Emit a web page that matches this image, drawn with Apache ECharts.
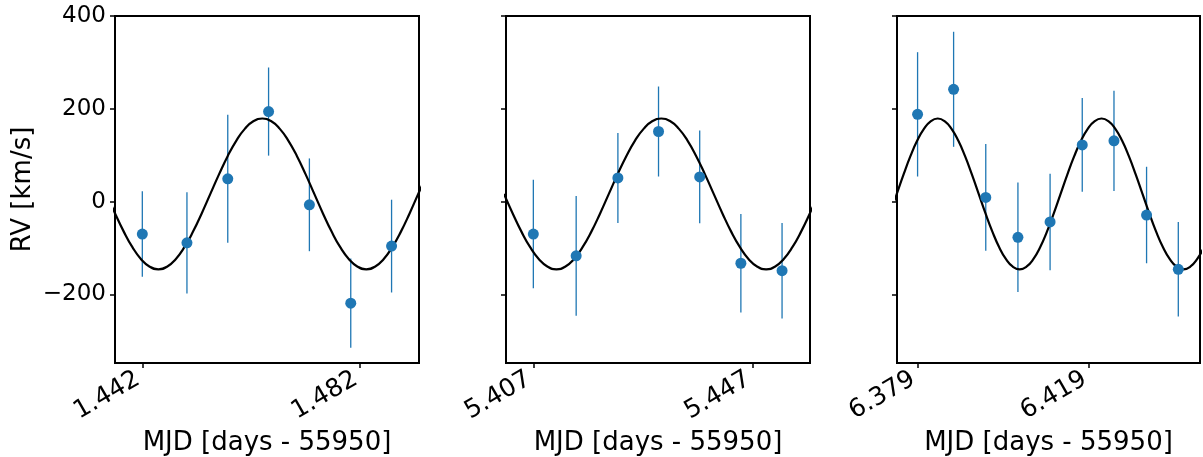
<!DOCTYPE html>
<html><head><meta charset="utf-8">
<script src="https://cdn.jsdelivr.net/npm/echarts@6/dist/echarts.min.js"></script>
<style>html,body{margin:0;padding:0;background:#fff}#c{width:1203px;height:457px}</style>
</head><body><div id="c"></div>
<script>
// ---- data ----
const t1 = [1.4420, 1.4502, 1.4577, 1.4652, 1.4727, 1.4803, 1.4878];
const rv1 = [-70, -89, 49, 194, -7, -219, -96];
const err1 = [92, 109, 138, 95, 100, 96, 100];

const t2 = [5.4070, 5.4148, 5.4224, 5.4298, 5.4373, 5.4448, 5.4523];
const rv2 = [-70, -117, 51, 151, 53, -133, -149];
const err2 = [117, 129, 97, 97, 100, 106, 103];

const t3 = [6.3790, 6.3874, 6.3949, 6.4024, 6.4099, 6.4174, 6.4248, 6.4324, 6.4398];
const rv3 = [188, 242, 9, -77, -44, 122, 131, -29, -146];
const err3 = [134, 124, 115, 118, 104, 101, 108, 104, 102];

// model curve
const modelT1 = [1.43540, 1.43699, 1.43859, 1.44018, 1.44177, 1.44336, 1.44495, 1.44654, 1.44813, 1.44973, 1.45132, 1.45291, 1.45450, 1.45609, 1.45768, 1.45928, 1.46087, 1.46246, 1.46405, 1.46564, 1.46723, 1.46882, 1.47042, 1.47201, 1.47360, 1.47519, 1.47678, 1.47837, 1.47997, 1.48156, 1.48315, 1.48474, 1.48633, 1.48792, 1.48952, 1.49111, 1.49270, 1.49429];
const modelRV1 = [16.5, -25.6, -64.8, -98.4, -124.2, -140.5, -146, -140.5, -124.2, -98.4, -64.8, -25.6, 16.5, 58.6, 97.8, 131.4, 157.2, 173.5, 179, 173.5, 157.2, 131.4, 97.8, 58.6, 16.5, -25.6, -64.8, -98.4, -124.2, -140.5, -146, -140.5, -124.2, -98.4, -64.8, -25.6, 16.5, 58.6];

const modelT2 = [5.40165, 5.40324, 5.40483, 5.40642, 5.40802, 5.40961, 5.41120, 5.41279, 5.41438, 5.41597, 5.41757, 5.41916, 5.42075, 5.42234, 5.42393, 5.42552, 5.42712, 5.42871, 5.43030, 5.43189, 5.43348, 5.43508, 5.43667, 5.43826, 5.43985, 5.44144, 5.44303, 5.44463, 5.44622, 5.44781, 5.44940, 5.45099, 5.45258, 5.45418, 5.45577, 5.45736, 5.45895];
const modelRV2 = [16.5, -25.6, -64.8, -98.4, -124.2, -140.5, -146, -140.5, -124.2, -98.4, -64.8, -25.6, 16.5, 58.6, 97.8, 131.4, 157.2, 173.5, 179, 173.5, 157.2, 131.4, 97.8, 58.6, 16.5, -25.6, -64.8, -98.4, -124.2, -140.5, -146, -140.5, -124.2, -98.4, -64.8, -25.6, 16.5];

const modelT3 = [6.37256, 6.37415, 6.37574, 6.37733, 6.37892, 6.38052, 6.38211, 6.38370, 6.38529, 6.38688, 6.38848, 6.39007, 6.39166, 6.39325, 6.39484, 6.39644, 6.39803, 6.39962, 6.40121, 6.40280, 6.40439, 6.40599, 6.40758, 6.40917, 6.41076, 6.41235, 6.41394, 6.41553, 6.41713, 6.41872, 6.42031, 6.42190, 6.42349, 6.42508, 6.42668, 6.42827, 6.42986, 6.43145, 6.43304, 6.43463, 6.43623, 6.43782, 6.43941, 6.44100, 6.44259, 6.44418, 6.44578];
const modelRV3 = [-25.6, 16.5, 58.6, 97.8, 131.4, 157.2, 173.5, 179, 173.5, 157.2, 131.4, 97.8, 58.6, 16.5, -25.6, -64.8, -98.4, -124.2, -140.5, -146, -140.5, -124.2, -98.4, -64.8, -25.6, 16.5, 58.6, 97.8, 131.4, 157.2, 173.5, 179, 173.5, 157.2, 131.4, 97.8, 58.6, 16.5, -25.6, -64.8, -98.4, -124.2, -140.5, -146, -140.5, -124.2, -98.4];

const xTicks1 = [1.442, 1.482];
const xTicks2 = [5.407, 5.447];
const xTicks3 = [6.379, 6.419];
const yTicks = [-200, 0, 200, 400];

const xRange1 = [1.43698, 1.49284];
const xRange2 = [5.40202, 5.45739];
const xRange3 = [6.37420, 6.44486];
const yRange = [-348, 400];

const xTitle = 'MJD [days - 55950]';
const yTitle = 'RV [km/s]';

// ---- chart ----
const FONT = 'DejaVu Sans';
const BLUE = '#1f77b4';
const panels = [
  {t: t1, rv: rv1, err: err1, mt: modelT1, mrv: modelRV1, ticks: xTicks1, range: xRange1},
  {t: t2, rv: rv2, err: err2, mt: modelT2, mrv: modelRV2, ticks: xTicks2, range: xRange2},
  {t: t3, rv: rv3, err: err3, mt: modelT3, mrv: modelRV3, ticks: xTicks3, range: xRange3}
];
const gridPos = [{left: 115, width: 304}, {left: 506, width: 304}, {left: 897, width: 303}];

const grid = [], xAxis = [], yAxis = [], series = [];
panels.forEach((p, i) => {
  grid.push({left: gridPos[i].left, width: gridPos[i].width, top: 16, height: 347,
    outerBoundsMode: 'none', containLabel: false,
    show: true, borderColor: '#000', borderWidth: 2, backgroundColor: 'transparent'});
  xAxis.push({
    type: 'value', gridIndex: i, min: p.range[0], max: p.range[1],
    axisLine: {show: false, onZero: false},
    splitLine: {show: false},
    axisTick: {show: true, length: 5, customValues: p.ticks, lineStyle: {color: '#000', width: 1.5}},
    axisLabel: {show: true, customValues: p.ticks, rotate: 30, margin: 12, padding: [0, 5, 0, 0],
      formatter: v => Number(v).toFixed(3), fontSize: 25, color: '#000', fontFamily: FONT},
    name: xTitle, nameLocation: 'middle', nameGap: 56,
    nameTextStyle: {fontSize: 26, color: '#000', fontFamily: FONT}
  });
  yAxis.push({
    type: 'value', gridIndex: i, min: yRange[0], max: yRange[1],
    axisLine: {show: false, onZero: false},
    splitLine: {show: false},
    axisTick: {show: true, length: 5, customValues: yTicks, lineStyle: {color: '#000', width: 1.5}},
    axisLabel: {show: i === 0, customValues: yTicks, margin: 9,
      formatter: v => String(v).replace('-', '\u2212'), fontSize: 23, color: '#000', fontFamily: FONT},
    name: i === 0 ? yTitle : '', nameLocation: 'middle', nameGap: 79,
    nameTextStyle: {fontSize: 26, color: '#000', fontFamily: FONT}
  });
  series.push({
    type: 'custom', xAxisIndex: i, yAxisIndex: i, z: 2, clip: true,
    data: p.t.map((x, j) => [x, p.rv[j] - p.err[j], p.rv[j] + p.err[j]]),
    renderItem: (params, api) => {
      const a = api.coord([api.value(0), api.value(1)]);
      const b = api.coord([api.value(0), api.value(2)]);
      return {type: 'line', shape: {x1: a[0], y1: a[1], x2: b[0], y2: b[1]},
        style: {stroke: BLUE, lineWidth: 1.3}};
    }
  });
  series.push({
    type: 'line', xAxisIndex: i, yAxisIndex: i, z: 3, smooth: true, showSymbol: false,
    clip: true, data: p.mt.map((x, j) => [x, p.mrv[j]]),
    lineStyle: {color: '#000', width: 2.2}
  });
  series.push({
    type: 'scatter', xAxisIndex: i, yAxisIndex: i, z: 4, symbolSize: 11,
    data: p.t.map((x, j) => [x, p.rv[j]]),
    itemStyle: {color: BLUE, opacity: 1}
  });
});

const chart = echarts.init(document.getElementById('c'), null, {renderer: 'canvas'});
chart.setOption({animation: false, backgroundColor: '#fff', grid, xAxis, yAxis, series});
</script>
</body></html>
